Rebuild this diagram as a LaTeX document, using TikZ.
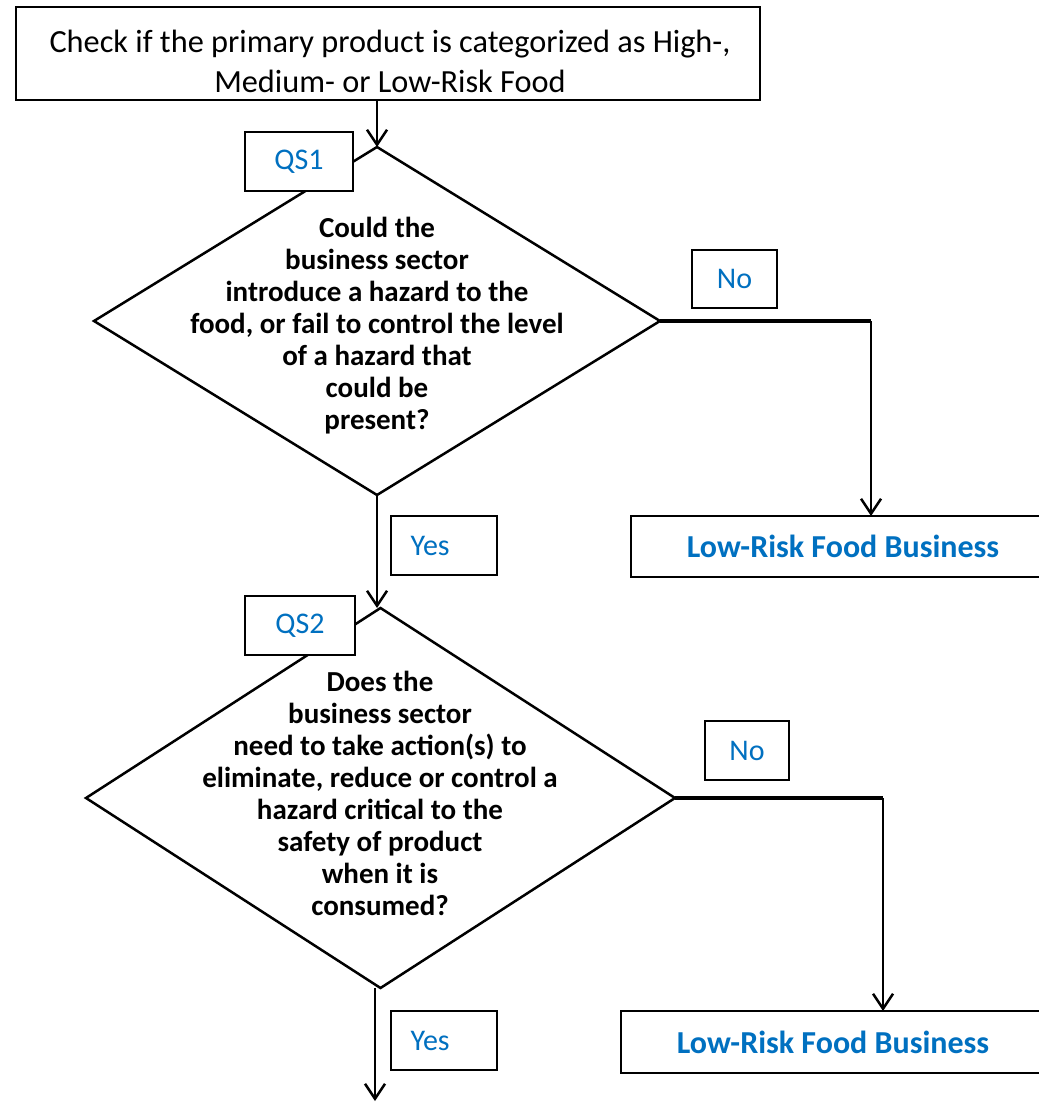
\documentclass[tikz,border=0pt]{standalone}
\usepackage{fontspec}
\setmainfont{Carlito}
\usetikzlibrary{shapes.geometric,arrows.meta}
\definecolor{wblue}{HTML}{0070C0}
\begin{document}
\begin{tikzpicture}[x=1pt,y=-1pt,
  box/.style={draw,line width=2.5pt,inner sep=0pt,outer sep=0pt},
  lbl/.style={box,text=wblue,font=\fontsize{30}{34}\selectfont},
  res/.style={box,text=wblue,font=\fontsize{32}{36}\selectfont\bfseries},
  dia/.style={draw,line width=2.5pt,diamond,inner sep=0pt,outer sep=0pt},
  qtxt/.style={align=center,font=\fontsize{29}{32}\selectfont\bfseries},
  arr/.style={line width=2.5pt,-{Straight Barb[length=15pt,width=20pt,line width=2.5pt]}},
  conn/.style={line width=3.5pt}]
\useasboundingbox[fill=white] (0,0) rectangle (1038,1102);
\node[box,minimum width=744pt,minimum height=93pt] (top) at (388,53.5) {};
\node[align=center,font=\fontsize{32.3}{40}\selectfont] (toptxt) at (390,61)
  {Check if the primary product is categorized as High-,\\Medium- or Low-Risk Food};
\node[dia,minimum width=566pt,minimum height=348pt] (d1) at (377,321) {};
\node[qtxt] (t1) at (377,326) {Could the\\business sector\\introduce a hazard to the\\food, or fail to control the level\\of a hazard that\\could be\\present?};
\node[lbl,fill=white,minimum width=108pt,minimum height=59pt] (qs1) at (299,161.5) {QS1};
\node[lbl,minimum width=85pt,minimum height=58pt] (no1) at (734.5,279) {No};
\node[res,minimum width=424pt,minimum height=61pt] (lr1) at (843,546.5) {Low-Risk Food Business};
\node[lbl,minimum width=106pt,minimum height=59pt] (yes1) at (444,545.5) {};
\node[text=wblue,font=\fontsize{30}{34}\selectfont,anchor=west] (yes1t) at (yes1.west) {\hspace{16pt}Yes};
\node[dia,minimum width=589pt,minimum height=380pt] (d2) at (380.5,798) {};
\node[qtxt] (t2) at (380,793.5) {Does the\\business sector\\need to take action(s) to\\eliminate, reduce or control a\\hazard critical to the\\safety of product\\when it is\\consumed?};
\node[lbl,fill=white,minimum width=110pt,minimum height=59pt] (qs2) at (300,625.5) {QS2};
\node[lbl,minimum width=84pt,minimum height=59pt] (no2) at (747,750.5) {No};
\node[res,minimum width=424pt,minimum height=62pt] (lr2) at (833,1042) {Low-Risk Food Business};
\node[lbl,minimum width=106pt,minimum height=59pt] (yes2) at (444,1040.5) {};
\node[text=wblue,font=\fontsize{30}{34}\selectfont,anchor=west] (yes2t) at (yes2.west) {\hspace{16pt}Yes};
\coordinate (end) at (375,1101);
\draw[arr] (d1.north |- top.south) -- (d1.north);
\draw[arr] (d1.south) -- (d1.south |- d2.north);
\draw[conn] (d1.east) -- ([xshift=28pt]lr1.north |- d1.east);
\draw[arr] ([xshift=28pt]lr1.north |- d1.east) -- ([xshift=28pt]lr1.north);
\draw[conn] (d2.east) -- ([xshift=50pt]lr2.north |- d2.east);
\draw[arr] ([xshift=50pt]lr2.north |- d2.east) -- ([xshift=50pt]lr2.north);
\draw[arr] (end |- d2.south) -- (end);
\end{tikzpicture}
\end{document}
